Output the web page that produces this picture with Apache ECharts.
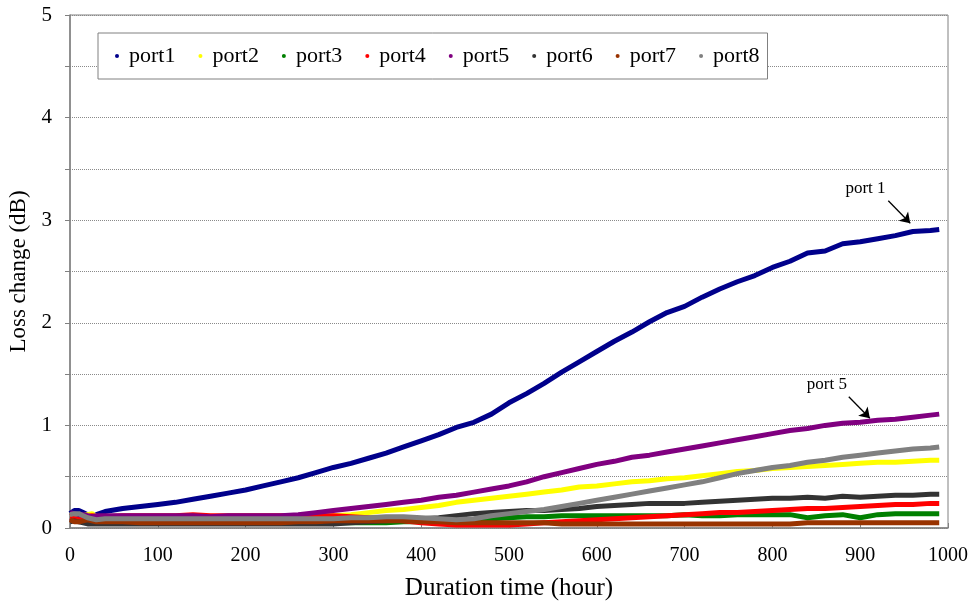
<!DOCTYPE html>
<html>
<head>
<meta charset="utf-8">
<script src="https://cdn.jsdelivr.net/npm/echarts@6/dist/echarts.min.js"></script>
<style>
  html, body { margin: 0; padding: 0; background: #fff; }
  #chart { width: 976px; height: 605px; }
</style>
</head>
<body>
<div id="chart"></div>
<script>
// Sampling times (hours) shared by all ports
const hours = [0, 5, 10, 15, 20, 25, 30,
  40, 60, 80, 100, 120, 140, 160, 180, 200, 220, 240, 260, 280, 300,
  320, 340, 360, 380, 400, 420, 440, 460, 480, 500, 520, 540, 560, 580, 600,
  620, 640, 660, 680, 700, 720, 740, 760, 780, 800, 820, 840, 860, 880, 900, 920, 940, 960, 980,
  990];

// Loss change (dB) per port
const port1 = [0.14, 0.17, 0.17, 0.15, 0.13, 0.11, 0.13,
  0.16, 0.19, 0.21, 0.23, 0.25, 0.28, 0.31, 0.34, 0.37, 0.41, 0.45, 0.49, 0.54, 0.59,
  0.63, 0.68, 0.73, 0.79, 0.85, 0.91, 0.98, 1.03, 1.11, 1.22, 1.31, 1.41, 1.52, 1.62, 1.72,
  1.82, 1.91, 2.01, 2.10, 2.16, 2.25, 2.33, 2.40, 2.46, 2.54, 2.60, 2.68, 2.70, 2.77, 2.79, 2.82, 2.85, 2.89, 2.90,
  2.91];
const port2 = [0.12, 0.13, 0.13, 0.12, 0.13, 0.14, 0.11,
  0.10, 0.10, 0.10, 0.10, 0.10, 0.10, 0.10, 0.10, 0.10, 0.10, 0.10, 0.11, 0.11, 0.12,
  0.13, 0.15, 0.17, 0.18, 0.20, 0.22, 0.25, 0.27, 0.29, 0.31, 0.33, 0.35, 0.37, 0.40, 0.41,
  0.43, 0.45, 0.46, 0.48, 0.49, 0.51, 0.53, 0.55, 0.56, 0.58, 0.59, 0.60, 0.61, 0.62, 0.63, 0.64, 0.64, 0.65, 0.66,
  0.66];
const port3 = [0.08, 0.08, 0.07, 0.06, 0.05, 0.05, 0.05,
  0.05, 0.05, 0.05, 0.05, 0.05, 0.05, 0.05, 0.05, 0.05, 0.05, 0.05, 0.05, 0.05, 0.05,
  0.05, 0.05, 0.05, 0.06, 0.06, 0.06, 0.07, 0.08, 0.09, 0.10, 0.11, 0.11, 0.12, 0.12, 0.12,
  0.12, 0.12, 0.12, 0.12, 0.13, 0.12, 0.12, 0.13, 0.13, 0.13, 0.13, 0.10, 0.12, 0.13, 0.10, 0.13, 0.14, 0.14, 0.14,
  0.14];
const port4 = [0.10, 0.09, 0.08, 0.09, 0.11, 0.12, 0.11,
  0.11, 0.12, 0.12, 0.12, 0.12, 0.13, 0.12, 0.12, 0.12, 0.12, 0.12, 0.12, 0.12, 0.12,
  0.11, 0.10, 0.08, 0.07, 0.05, 0.04, 0.03, 0.03, 0.03, 0.03, 0.04, 0.05, 0.06, 0.07, 0.08,
  0.09, 0.10, 0.11, 0.12, 0.13, 0.14, 0.15, 0.15, 0.16, 0.17, 0.18, 0.19, 0.19, 0.20, 0.21, 0.22, 0.23, 0.23, 0.24,
  0.24];
const port5 = [0.15, 0.14, 0.13, 0.13, 0.12, 0.11, 0.12,
  0.12, 0.12, 0.12, 0.12, 0.12, 0.12, 0.11, 0.12, 0.12, 0.12, 0.12, 0.13, 0.15, 0.17,
  0.19, 0.21, 0.23, 0.25, 0.27, 0.30, 0.32, 0.35, 0.38, 0.41, 0.45, 0.50, 0.54, 0.58, 0.62,
  0.65, 0.69, 0.71, 0.74, 0.77, 0.80, 0.83, 0.86, 0.89, 0.92, 0.95, 0.97, 1.00, 1.02, 1.03, 1.05, 1.06, 1.08, 1.10,
  1.11];
const port6 = [0.06, 0.07, 0.06, 0.05, 0.04, 0.04, 0.04,
  0.04, 0.04, 0.04, 0.04, 0.04, 0.04, 0.04, 0.04, 0.04, 0.04, 0.04, 0.04, 0.04, 0.04,
  0.05, 0.06, 0.07, 0.08, 0.09, 0.10, 0.12, 0.14, 0.15, 0.16, 0.17, 0.17, 0.18, 0.19, 0.21,
  0.22, 0.23, 0.24, 0.24, 0.24, 0.25, 0.26, 0.27, 0.28, 0.29, 0.29, 0.30, 0.29, 0.31, 0.30, 0.31, 0.32, 0.32, 0.33,
  0.33];
const port7 = [0.08, 0.06, 0.06, 0.07, 0.08, 0.07, 0.06,
  0.06, 0.06, 0.05, 0.05, 0.05, 0.05, 0.05, 0.05, 0.05, 0.05, 0.05, 0.06, 0.06, 0.07,
  0.07, 0.07, 0.07, 0.07, 0.06, 0.06, 0.05, 0.05, 0.05, 0.05, 0.05, 0.05, 0.04, 0.04, 0.04,
  0.04, 0.04, 0.04, 0.04, 0.04, 0.04, 0.04, 0.04, 0.04, 0.04, 0.04, 0.05, 0.05, 0.05, 0.05, 0.05, 0.05, 0.05, 0.05,
  0.05];
const port8 = [0.13, 0.14, 0.14, 0.12, 0.10, 0.09, 0.08,
  0.09, 0.09, 0.09, 0.09, 0.09, 0.09, 0.09, 0.09, 0.09, 0.09, 0.09, 0.09, 0.09, 0.09,
  0.10, 0.10, 0.11, 0.11, 0.10, 0.09, 0.08, 0.09, 0.12, 0.14, 0.16, 0.18, 0.21, 0.24, 0.27,
  0.30, 0.33, 0.36, 0.39, 0.42, 0.45, 0.49, 0.53, 0.56, 0.59, 0.61, 0.64, 0.66, 0.69, 0.71, 0.73, 0.75, 0.77, 0.78,
  0.79];

const portNames = ['port1', 'port2', 'port3', 'port4', 'port5', 'port6', 'port7', 'port8'];
const portValues = [port1, port2, port3, port4, port5, port6, port7, port8];
const portColors = ['#00008b', '#ffff00', '#008000', '#ff0000', '#800080', '#333333', '#993300', '#808080'];

// Callout labels with arrows, in data coordinates (hour, dB)
const callouts = {
  port1: { text: 'port 1', textAt: [906, 3.31], from: [932, 3.19], to: [957, 2.97] },
  port5: { text: 'port 5', textAt: [862, 1.40], from: [887, 1.28], to: [911, 1.07] }
};

const serif = '"Liberation Serif", "Times New Roman", serif';

const series = portNames.map((name, i) => {
  const s = {
    name: name,
    type: 'line',
    data: hours.map((h, k) => [h, portValues[i][k]]),
    showSymbol: false,
    symbol: 'circle',
    color: portColors[i],
    lineStyle: { width: 5, color: portColors[i] },
    emphasis: { disabled: true },
    z: 2 + i
  };
  const c = callouts[name];
  if (c) {
    s.markLine = {
      silent: true,
      symbol: ['none', 'arrow'],
      symbolSize: 10,
      label: { show: false },
      lineStyle: { color: '#000', width: 1.3, type: 'solid' },
      itemStyle: { color: '#000' },
      data: [[{ coord: c.from }, { coord: c.to }]]
    };
    s.markPoint = {
      silent: true,
      symbol: 'circle',
      symbolSize: 0,
      label: {
        show: true, position: 'inside', formatter: c.text,
        color: '#000', fontFamily: serif, fontSize: 17
      },
      data: [{ coord: c.textAt }]
    };
  }
  return s;
});

const chart = echarts.init(document.getElementById('chart'));
chart.setOption({
  animation: false,
  backgroundColor: '#fff',
  grid: {
    left: 70, right: 28, top: 15, bottom: 77,
    outerBoundsMode: 'none',
    containLabel: false,
    show: true, borderColor: '#808080', borderWidth: 1, backgroundColor: 'transparent'
  },
  legend: {
    data: portNames,
    left: 98, top: 33,
    orient: 'horizontal',
    icon: 'circle',
    itemWidth: 4, itemHeight: 4,
    itemGap: 23,
    padding: [12, 8, 12, 17],
    backgroundColor: '#fff',
    borderColor: '#808080', borderWidth: 1,
    textStyle: { fontFamily: serif, fontSize: 22, color: '#000', padding: [0, 0, 0, 5] }
  },
  xAxis: {
    type: 'value',
    min: 0, max: 1000, interval: 100,
    name: 'Duration time (hour)',
    nameLocation: 'middle',
    nameGap: 48,
    nameTextStyle: { fontFamily: serif, fontSize: 25, color: '#000' },
    axisLine: { lineStyle: { color: '#808080', width: 1.5 } },
    axisTick: { inside: true, length: 5, lineStyle: { color: '#808080' } },
    axisLabel: { fontFamily: serif, fontSize: 20, color: '#000', margin: 18, formatter: v => String(v) },
    splitLine: { show: false }
  },
  yAxis: {
    type: 'value',
    min: 0, max: 5, interval: 0.5,
    name: 'Loss change (dB)',
    nameLocation: 'middle',
    nameGap: 37,
    nameRotate: 90,
    nameTextStyle: { fontFamily: serif, fontSize: 23, color: '#000' },
    axisLine: { show: true, lineStyle: { color: '#808080', width: 1.5 } },
    axisTick: { show: true, inside: false, length: 5, lineStyle: { color: '#808080' } },
    axisLabel: {
      fontFamily: serif, fontSize: 21, color: '#000', margin: 18,
      formatter: v => (Number.isInteger(v) ? String(v) : '')
    },
    splitLine: { show: true, lineStyle: { color: '#8a8a8a', type: 'dotted', width: 1 } }
  },
  series: series
});
</script>
</body>
</html>
